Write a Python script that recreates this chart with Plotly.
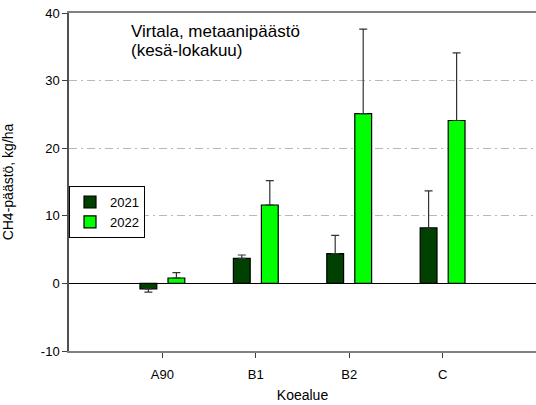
import plotly.graph_objects as go

categories = ["A90", "B1", "B2", "C"]
years = ["2021", "2022"]
values_2021 = [-0.8, 3.7, 4.4, 8.2]
values_2022 = [0.8, 11.6, 25.1, 24.1]
err_2021 = [0.5, 0.5, 2.7, 5.5]
err_2022 = [0.8, 3.6, 12.5, 10.0]
y_ticks = [-10, 0, 10, 20, 30, 40]
y_ticktext = ["-10", "0", "10", "20", "30", "40"]

colors = {"2021": "#004000", "2022": "#00ff00"}
offsets = {"2021": -0.24, "2022": 0.06}

fig = go.Figure()
for yr, vals, errs in [("2021", values_2021, err_2021), ("2022", values_2022, err_2022)]:
    up = [e if v >= 0 else 0 for v, e in zip(vals, errs)]
    down = [e if v < 0 else 0 for v, e in zip(vals, errs)]
    fig.add_trace(go.Bar(
        x=categories, y=vals, name=yr,
        width=0.18, offset=offsets[yr],
        marker=dict(color=colors[yr], line=dict(color="black", width=1.2)),
        error_y=dict(type="data", symmetric=False, array=up, arrayminus=down,
                     color="#333333", thickness=1.2, width=4),
    ))

fig.update_layout(
    width=536, height=405,
    margin=dict(l=69, r=0, t=13, b=54),
    paper_bgcolor="white", plot_bgcolor="white",
    barmode="overlay",
    font=dict(family="Liberation Sans, Arial, sans-serif", size=12, color="black"),
    showlegend=True,
    legend=dict(x=0, xanchor="left", y=0.488, yanchor="top",
                bordercolor="black", borderwidth=1, bgcolor="white",
                font=dict(size=13), itemwidth=30, tracegroupgap=0,
                entrywidth=52, entrywidthmode="pixels"),
    xaxis=dict(range=[-1, 4], type="category", showgrid=False, automargin=False,
               ticks="outside", ticklen=5, tickcolor="#404040",
               showline=True, linecolor="#808080", linewidth=2, mirror=True,
               title=dict(text="Koealue", font=dict(size=14), standoff=10),
               tickfont=dict(size=13), ticklabelstandoff=5),
    yaxis=dict(range=[-10, 40], tickvals=y_ticks, ticktext=y_ticktext, automargin=False,
               showgrid=True, gridcolor="#b8b8b8", griddash="8px,4px,2px,4px", gridwidth=1,
               zeroline=True, zerolinecolor="black", zerolinewidth=1.2,
               ticks="outside", ticklen=5, tickcolor="#404040",
               showline=True, linecolor="#505050", linewidth=1.5,
               ticklabeloverflow="allow",
               title=dict(text="CH4-päästö, kg/ha", font=dict(size=14), standoff=26),
               tickfont=dict(size=13)),
    annotations=[
        dict(text="Virtala, metaanipäästö", xref="paper", yref="paper",
             x=0.128, y=0.945, xanchor="left", yanchor="middle",
             showarrow=False, align="left", font=dict(size=17, color="black")),
        dict(text="(kesä-lokakuu)", xref="paper", yref="paper",
             x=0.128, y=0.89, xanchor="left", yanchor="middle",
             showarrow=False, align="left", font=dict(size=17, color="black")),
    ],
)

fig.write_html(
    "out.html",
    config={"displayModeBar": False},
    post_script="document.body.style.margin='0';document.body.style.overflow='hidden';",
)
